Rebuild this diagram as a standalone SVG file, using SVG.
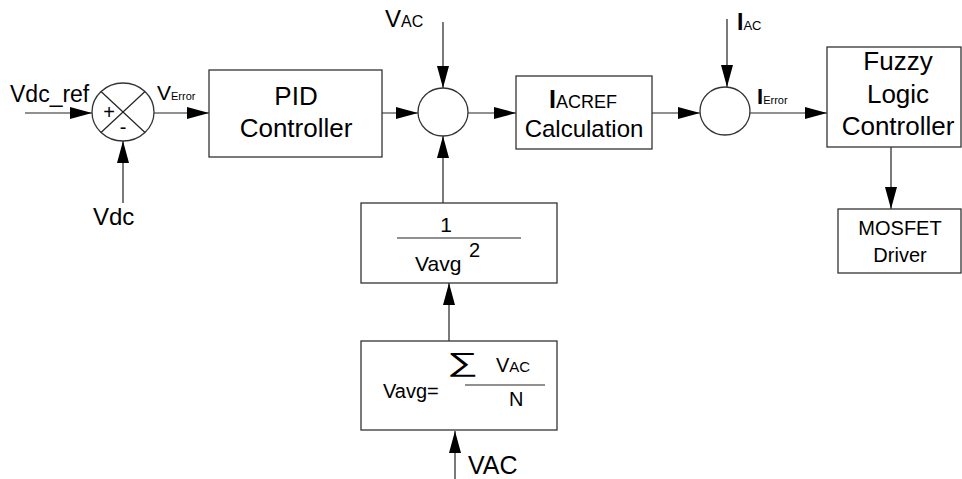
<svg xmlns="http://www.w3.org/2000/svg" width="962" height="479" viewBox="0 0 962 479">
<defs>
<marker id="ah" viewBox="0 0 22 12" refX="22" refY="6" markerWidth="22" markerHeight="12" markerUnits="userSpaceOnUse" orient="auto">
<path d="M0,0 L22,6 L0,12 z" fill="#000"/>
</marker>
<style>
.box{fill:#fff;stroke:#333;stroke-width:1.3}
.ln{fill:none;stroke:#222;stroke-width:1.2}
.cn{fill:none;stroke:#222;stroke-width:1.2;marker-end:url(#ah)}
text{font-family:"Liberation Sans",Arial,sans-serif;fill:#000}
.c{text-anchor:middle}
</style>
</defs>
<rect width="962" height="479" fill="#fff"/>

<g id="connectors">
<line class="cn" x1="25" y1="113" x2="92" y2="113"/>
<line class="cn" x1="123" y1="203" x2="123" y2="141"/>
<line class="cn" x1="154" y1="113" x2="209" y2="113"/>
<line class="cn" x1="382" y1="113" x2="418" y2="113"/>
<line class="cn" x1="443" y1="22" x2="443" y2="88"/>
<line class="cn" x1="443" y1="203" x2="443" y2="136"/>
<line class="cn" x1="468" y1="113" x2="516" y2="113"/>
<line class="cn" x1="652" y1="113" x2="700" y2="113"/>
<line class="cn" x1="727" y1="19" x2="727" y2="87"/>
<line class="cn" x1="750" y1="113" x2="827" y2="113"/>
<line class="cn" x1="891" y1="147" x2="891" y2="209"/>
<line class="cn" x1="449" y1="341" x2="449" y2="283"/>
<line class="cn" x1="455" y1="479" x2="455" y2="431"/>
</g>

<g id="sum1">
<ellipse class="box" cx="123" cy="112" rx="31" ry="29"/>
<line class="ln" x1="101" y1="91.5" x2="145" y2="132.5"/>
<line class="ln" x1="145" y1="91.5" x2="101" y2="132.5"/>
<text x="109" y="119" class="c" font-size="20">+</text>
<text x="123" y="134" class="c" font-size="20">-</text>
</g>

<g id="label-vdcref"><text x="10" y="102" font-size="23">Vdc_ref</text></g>
<g id="label-vdc"><text x="93" y="225" font-size="24">Vdc</text></g>
<g id="label-verror"><text x="157" y="100"><tspan font-size="21">V</tspan><tspan font-size="11">Error</tspan></text></g>

<g id="pid">
<rect class="box" x="209" y="70" width="173" height="87"/>
<text x="296" y="105" class="c" font-size="26">PID</text>
<text x="296" y="137" class="c" font-size="26">Controller</text>
</g>

<g id="sum2">
<ellipse class="box" cx="443" cy="112" rx="25" ry="24"/>
</g>
<g id="label-vac-top"><text x="385" y="27"><tspan font-size="24">V</tspan><tspan font-size="16">AC</tspan></text></g>

<g id="iacref">
<rect class="box" x="516" y="76" width="136" height="73"/>
<text x="549" y="108"><tspan font-size="25" font-weight="bold">I</tspan><tspan font-size="18">ACREF</tspan></text>
<text x="584" y="137" class="c" font-size="24">Calculation</text>
</g>

<g id="sum3">
<ellipse class="box" cx="725" cy="111" rx="25" ry="24"/>
</g>
<g id="label-iac"><text x="737" y="30"><tspan font-size="23" font-weight="bold">I</tspan><tspan font-size="13">AC</tspan></text></g>
<g id="label-ierror"><text x="757" y="104"><tspan font-size="22" font-weight="bold">I</tspan><tspan font-size="11">Error</tspan></text></g>

<g id="fuzzy">
<rect class="box" x="827" y="47" width="134" height="100"/>
<text x="898" y="70" class="c" font-size="26">Fuzzy</text>
<text x="898" y="103" class="c" font-size="26">Logic</text>
<text x="898" y="135" class="c" font-size="26">Controller</text>
</g>

<g id="mosfet">
<rect class="box" x="838" y="209" width="123" height="64"/>
<text x="900" y="235" class="c" font-size="20">MOSFET</text>
<text x="900" y="262" class="c" font-size="20">Driver</text>
</g>

<g id="inv-vavg2">
<rect class="box" x="361" y="203" width="196" height="80"/>
<text x="446" y="232" class="c" font-size="21">1</text>
<line class="ln" x1="397" y1="238" x2="521" y2="238"/>
<text x="415" y="271" font-size="21">Vavg</text>
<text x="469" y="257" font-size="20">2</text>
</g>

<g id="vavg">
<rect class="box" x="361" y="341" width="196" height="89"/>
<text x="383" y="398" font-size="20">Vavg=</text>
<text x="447" y="371" font-size="26" font-family="'DejaVu Sans',sans-serif" font-weight="200" textLength="31" lengthAdjust="spacingAndGlyphs">∑</text>
<text x="496" y="372"><tspan font-size="20">V</tspan><tspan font-size="15">AC</tspan></text>
<line class="ln" x1="465" y1="385" x2="545" y2="385"/>
<text x="509" y="406" font-size="20">N</text>
</g>

<g id="label-vac-bottom"><text x="468" y="474" font-size="25">VAC</text></g>
</svg>
